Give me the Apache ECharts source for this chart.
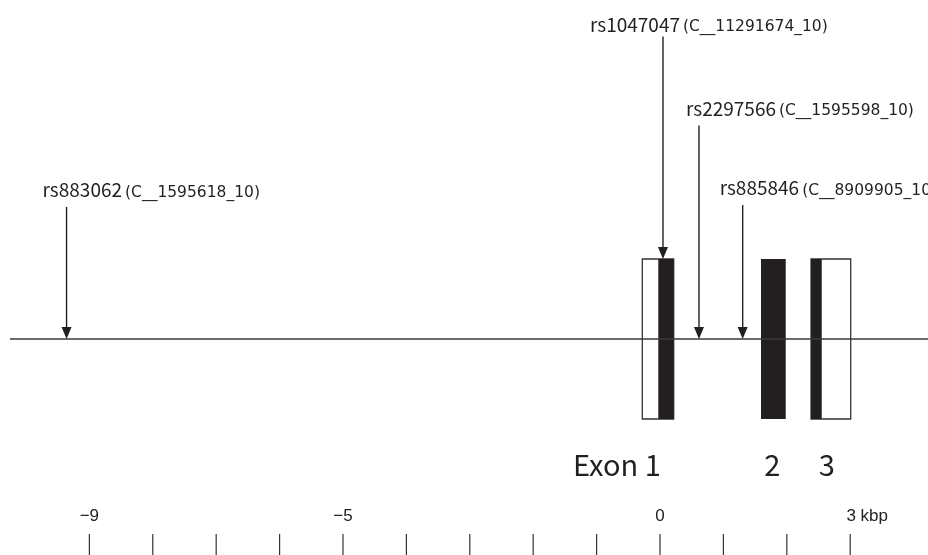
<!DOCTYPE html>
<html><head><meta charset="utf-8">
<script src="https://cdn.jsdelivr.net/npm/echarts@6/dist/echarts.min.js"></script>
<style>html,body{margin:0;padding:0;background:#fff}#c{width:928px;height:555px}</style>
</head><body><div id="c"></div>
<script>
// ---- data (positions in kbp relative to exon 1 start) ----
const snpNames = ['rs883062', 'rs1047047', 'rs2297566', 'rs885846'];
const snpAssays = ['(C__1595618_10)', '(C__11291674_10)', '(C__1595598_10)', '(C__8909905_10)'];
const snpPos = [-9.36, 0.047, 0.615, 1.304];
const exonNames = ['Exon 1', '2', '3'];
const exonUTR = [[-0.279, 0.216], [2.382, 3.008]];
const exonCDS = [[-0.027, 0.216], [1.593, 1.983], [2.382, 2.551]];
const exonLabelPos = [-0.68, 1.77, 2.63];
const tickValues = [-9, -8, -7, -6, -5, -4, -3, -2, -1, 0, 1, 2, 3];
const tickLabels = { '-9': '−9', '-5': '−5', '0': '0', '3': '3 kbp' };

// ---- layout ----
const X_MIN = -10.252, X_MAX = 4.227;
const Y_MIN = -2.7, Y_MAX = 4.2375;
const snpTop = [1.65, 3.78, 2.67, 1.675];   // arrow start (exon half-height = 1)
const snpTip = [0, 1, 0, 0];
const snpLabelDx = [-24, -73, -13, -23];
const snpLabelDy = [-17, -12, -17, -17];
const TICK_TOP = -2.4375;
const INK = '#231f20';

const chart = echarts.init(document.getElementById('c'), null, { renderer: 'canvas' });

const option = {
  animation: false,
  backgroundColor: '#fff',
  grid: [
    { left: 10, right: 0, top: 0, bottom: 0 },
    { left: 10, right: 0, top: 534, height: 21 }
  ],
  xAxis: [
    { gridIndex: 0, type: 'value', min: X_MIN, max: X_MAX, show: false },
    {
      gridIndex: 1, type: 'value', min: X_MIN, max: X_MAX, position: 'top',
      axisLine: { show: false }, splitLine: { show: false }, axisTick: { show: false },
      axisLabel: {
        show: true, customValues: tickValues, margin: 9,
        formatter: v => {
          const t = tickLabels[String(v)] || '';
          return v === 3 ? '{k|' + t + '}' : t;
        },
        fontFamily: 'Liberation Sans Narrow, Liberation Sans, sans-serif', fontSize: 17, color: '#222',
        rich: { k: { padding: [0, 0, 0, 34], fontFamily: 'Liberation Sans Narrow, Liberation Sans, sans-serif', fontSize: 17, color: '#222' } }
      }
    }
  ],
  yAxis: [
    { gridIndex: 0, type: 'value', min: Y_MIN, max: Y_MAX, show: false },
    { gridIndex: 1, type: 'value', min: 0, max: 1, show: false }
  ],
  series: [
    {
      type: 'line', xAxisIndex: 0, yAxisIndex: 0, silent: true, symbol: 'none',
      data: [[X_MIN, 0], [X_MAX, 0]],
      lineStyle: { color: '#3a3a3a', width: 1.5 }
    },
    {
      type: 'custom', xAxisIndex: 0, yAxisIndex: 0, silent: true,
      data: exonUTR.map(e => [e[0], e[1]]),
      encode: { x: [0, 1] },
      renderItem: (params, api) => {
        const a = api.coord([api.value(0), 1]);
        const b = api.coord([api.value(1), -1]);
        return { type: 'rect', shape: { x: a[0], y: a[1], width: b[0] - a[0], height: b[1] - a[1] },
          style: { fill: 'none', stroke: '#333', lineWidth: 1.3 } };
      }
    },
    {
      type: 'custom', xAxisIndex: 0, yAxisIndex: 0, silent: true,
      data: exonCDS.map(e => [e[0], e[1]]),
      encode: { x: [0, 1] },
      renderItem: (params, api) => {
        const a = api.coord([api.value(0), 1]);
        const b = api.coord([api.value(1), -1]);
        return { type: 'rect', shape: { x: a[0], y: a[1], width: b[0] - a[0], height: b[1] - a[1] },
          style: { fill: INK } };
      }
    },
    {
      type: 'custom', xAxisIndex: 0, yAxisIndex: 0, silent: true,
      data: snpPos.map((p, i) => [p, snpTop[i], snpTip[i], i]),
      encode: { x: 0, y: 1 },
      renderItem: (params, api) => {
        const x = api.value(0), top = api.value(1), tip = api.value(2), i = api.value(3);
        const p1 = api.coord([x, top]);
        const p2 = api.coord([x, tip]);
        const ah = 12, aw = 5;
        return {
          type: 'group', children: [
            { type: 'line', shape: { x1: p1[0], y1: p1[1], x2: p2[0], y2: p2[1] - ah + 1 }, style: { stroke: INK, lineWidth: 1.4 } },
            { type: 'polygon', shape: { points: [[p2[0] - aw, p2[1] - ah], [p2[0] + aw, p2[1] - ah], [p2[0], p2[1]]] }, style: { fill: INK } },
            {
              type: 'text', x: p1[0] + snpLabelDx[i], y: p1[1] + snpLabelDy[i],
              style: {
                text: '{a|' + snpNames[i] + '}{b|' + snpAssays[i] + '}',
                align: 'left', verticalAlign: 'middle',
                rich: {
                  a: { fontFamily: 'Noto Sans CJK JP', fontSize: 19, fill: INK, padding: [0, 3, 0, 0], lineHeight: 24, verticalAlign: 'middle' },
                  b: { fontFamily: 'DejaVu Sans', fontSize: 15.5, fill: INK, lineHeight: 24, verticalAlign: 'middle', padding: [5, 0, 0, 0] }
                }
              }
            }
          ]
        };
      }
    },
    {
      type: 'custom', xAxisIndex: 0, yAxisIndex: 0, silent: true,
      data: tickValues.map(v => [v, TICK_TOP]),
      encode: { x: 0, y: 1 },
      renderItem: (params, api) => {
        const a = api.coord([api.value(0), api.value(1)]);
        const b = api.coord([api.value(0), Y_MIN]);
        return { type: 'line', shape: { x1: a[0], y1: a[1], x2: b[0], y2: b[1] },
          style: { stroke: '#333', lineWidth: 1.2 } };
      }
    },
    {
      type: 'custom', xAxisIndex: 0, yAxisIndex: 0, silent: true,
      data: exonLabelPos.map((p, i) => [p, -1.575, i]),
      encode: { x: 0, y: 1 },
      renderItem: (params, api) => {
        const c = api.coord([api.value(0), api.value(1)]);
        return { type: 'text', x: c[0], y: c[1],
          style: { text: exonNames[api.value(2)], align: 'center', verticalAlign: 'middle',
            fontFamily: 'Noto Sans CJK JP', fontSize: 29, fill: INK } };
      }
    }
  ]
};
chart.setOption(option);
</script>
</body></html>
